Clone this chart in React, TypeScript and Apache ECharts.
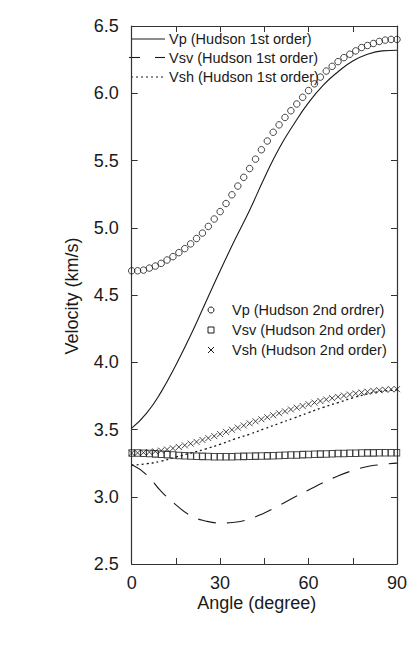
import React, { useEffect, useRef } from "react";
import * as echarts from "echarts";

// Propagation angle samples (degrees)
const ANGLES_FINE = [
  0, 2, 4, 6, 8, 10, 12, 14, 16, 18, 20, 22, 24, 26, 28, 30, 32, 34, 36, 38, 40, 42, 44,
  46, 48, 50, 52, 54, 56, 58, 60, 62, 64, 66, 68, 70, 72, 74, 76, 78, 80, 82, 84, 86, 88, 90,
];
const ANGLES_COARSE = [0, 5, 10, 15, 20, 25, 30, 35, 40, 45, 50, 55, 60, 65, 70, 75, 80, 85, 90];

// Hudson 1st order velocities (km/s), on ANGLES_COARSE
const VP_1ST = [
  3.51, 3.62, 3.78, 3.98, 4.2, 4.44, 4.68, 4.91, 5.13, 5.37, 5.59, 5.77, 5.93, 6.06, 6.16,
  6.24, 6.29, 6.315, 6.32,
];
const VSV_1ST = [
  3.24, 3.165, 3.04, 2.94, 2.86, 2.82, 2.805, 2.81, 2.835, 2.88, 2.935, 2.995, 3.05, 3.105,
  3.155, 3.195, 3.225, 3.24, 3.25,
];
const VSH_1ST = [
  3.235, 3.245, 3.265, 3.295, 3.325, 3.355, 3.39, 3.43, 3.465, 3.505, 3.545, 3.585, 3.625,
  3.665, 3.7, 3.735, 3.765, 3.785, 3.795,
];

// Hudson 2nd order velocities (km/s), on ANGLES_FINE
const VP_2ND = [
  4.68, 4.68, 4.685, 4.7, 4.715, 4.735, 4.76, 4.785, 4.815, 4.845, 4.88, 4.92, 4.96, 5.01,
  5.065, 5.12, 5.18, 5.245, 5.31, 5.375, 5.44, 5.51, 5.58, 5.645, 5.71, 5.765, 5.82, 5.87,
  5.92, 5.97, 6.02, 6.07, 6.12, 6.165, 6.2, 6.235, 6.265, 6.29, 6.315, 6.34, 6.355, 6.37,
  6.385, 6.395, 6.4, 6.4,
];
const VSV_2ND = [
  3.325, 3.325, 3.324, 3.322, 3.319, 3.316, 3.313, 3.31, 3.307, 3.305, 3.303, 3.301, 3.3,
  3.299, 3.298, 3.298, 3.298, 3.298, 3.299, 3.3, 3.301, 3.302, 3.303, 3.304, 3.305, 3.307,
  3.308, 3.31, 3.311, 3.313, 3.314, 3.316, 3.317, 3.318, 3.32, 3.321, 3.322, 3.323, 3.324,
  3.325, 3.326, 3.326, 3.327, 3.327, 3.327, 3.327,
];
const VSH_2ND = [
  3.325, 3.326, 3.328, 3.332, 3.337, 3.343, 3.351, 3.36, 3.37, 3.382, 3.395, 3.408, 3.422,
  3.436, 3.451, 3.466, 3.482, 3.498, 3.514, 3.53, 3.546, 3.561, 3.576, 3.591, 3.606, 3.621,
  3.635, 3.649, 3.662, 3.675, 3.688, 3.7, 3.712, 3.723, 3.733, 3.743, 3.752, 3.76, 3.768,
  3.775, 3.781, 3.787, 3.792, 3.796, 3.799, 3.8,
];

const X_LABELED_TICKS = [0, 30, 60, 90];

const LEGEND_1ST = ["Vp (Hudson 1st order)", "Vsv (Hudson 1st order)", "Vsh (Hudson 1st order)"];
const LEGEND_2ND = ["Vp (Hudson 2nd ordrer)", "Vsv (Hudson 2nd order)", "Vsh (Hudson 2nd order)"];

const INK = "#1a1a1a";
const FONT = "'Liberation Sans', Arial, Helvetica, sans-serif";
const CROSS = "path://M0,0L10,10M10,0L0,10";

const pair = (xs: number[], ys: number[]) => xs.map((x, i) => [x, ys[i]]);

export default function App() {
  const ref = useRef<HTMLDivElement>(null);

  useEffect(() => {
    if (!ref.current) return;
    const chart = echarts.init(ref.current, undefined, { renderer: "svg" });

    const axisCommon = {
      axisLine: { show: true, onZero: false, lineStyle: { color: "#333", width: 1.2 } },
      axisTick: { show: true, inside: true, length: 6, lineStyle: { color: "#333", width: 1 } },
      splitLine: { show: false },
    };

    const legendText = (text: string, x: number, y: number) => ({
      type: "text",
      x,
      y,
      style: { text, fill: INK, font: `14.5px ${FONT}`, textAlign: "left", textVerticalAlign: "middle" },
    });

    const rows1 = [39, 57.5, 77];
    const rows2 = [310, 330, 350];

    chart.setOption({
      animation: false,
      backgroundColor: "#fff",
      grid: { left: 131.7, top: 26, right: 10.5, bottom: 89 },
      xAxis: [
        {
          type: "value",
          min: 0,
          max: 90,
          interval: 15,
          position: "bottom",
          ...axisCommon,
          axisLabel: {
            margin: 10,
            color: INK,
            fontSize: 18,
            fontFamily: FONT,
            formatter: (v: number) => (X_LABELED_TICKS.includes(v) ? String(v) : ""),
          },
        },
        {
          type: "value",
          min: 0,
          max: 90,
          interval: 15,
          position: "top",
          ...axisCommon,
          axisLabel: { show: false },
        },
      ],
      yAxis: [
        {
          type: "value",
          min: 2.5,
          max: 6.5,
          interval: 0.5,
          position: "left",
          ...axisCommon,
          axisLabel: {
            margin: 13,
            color: INK,
            fontSize: 18,
            fontFamily: FONT,
            formatter: (v: number) => v.toFixed(1),
          },
        },
        {
          type: "value",
          min: 2.5,
          max: 6.5,
          interval: 0.5,
          position: "right",
          ...axisCommon,
          axisLabel: { show: false },
        },
      ],
      series: [
        {
          name: LEGEND_1ST[0],
          type: "line",
          smooth: true,
          symbol: "none",
          data: pair(ANGLES_COARSE, VP_1ST),
          lineStyle: { color: INK, width: 1.1 },
        },
        {
          name: LEGEND_1ST[1],
          type: "line",
          smooth: true,
          symbol: "none",
          data: pair(ANGLES_COARSE, VSV_1ST),
          lineStyle: { color: INK, width: 1.1, type: [18, 11] },
        },
        {
          name: LEGEND_1ST[2],
          type: "line",
          smooth: true,
          symbol: "none",
          data: pair(ANGLES_COARSE, VSH_1ST),
          lineStyle: { color: INK, width: 1.3, type: [2, 3] },
        },
        {
          name: LEGEND_2ND[0],
          type: "scatter",
          symbol: "circle",
          symbolSize: 6.5,
          data: pair(ANGLES_FINE, VP_2ND),
          itemStyle: { color: "transparent", borderColor: INK, borderWidth: 1 },
        },
        {
          name: LEGEND_2ND[1],
          type: "scatter",
          symbol: "rect",
          symbolSize: [5.5, 6.5],
          data: pair(ANGLES_FINE, VSV_2ND),
          itemStyle: { color: "transparent", borderColor: INK, borderWidth: 1 },
        },
        {
          name: LEGEND_2ND[2],
          type: "scatter",
          symbol: CROSS,
          symbolSize: 6,
          data: pair(ANGLES_FINE, VSH_2ND),
          itemStyle: { color: "transparent", borderColor: INK, borderWidth: 1 },
        },
      ],
      graphic: [
        // Axis titles
        {
          type: "text",
          x: 256.7,
          y: 603,
          style: {
            text: "Angle (degree)",
            fill: INK,
            font: `18px ${FONT}`,
            textAlign: "center",
            textVerticalAlign: "middle",
          },
        },
        {
          type: "text",
          x: 72,
          y: 296,
          rotation: Math.PI / 2,
          style: {
            text: "Velocity (km/s)",
            fill: INK,
            font: `18px ${FONT}`,
            textAlign: "center",
            textVerticalAlign: "middle",
          },
        },
        // Key for the 1st order curves
        { type: "line", shape: { x1: 131, y1: rows1[0], x2: 165, y2: rows1[0] }, style: { stroke: INK, lineWidth: 1 } },
        { type: "line", shape: { x1: 129, y1: rows1[1], x2: 140, y2: rows1[1] }, style: { stroke: INK, lineWidth: 1.1 } },
        { type: "line", shape: { x1: 155, y1: rows1[1], x2: 165, y2: rows1[1] }, style: { stroke: INK, lineWidth: 1.1 } },
        {
          type: "line",
          shape: { x1: 131, y1: rows1[2], x2: 165, y2: rows1[2] },
          style: { stroke: INK, lineWidth: 1.2, lineDash: [2, 3] },
        },
        legendText(LEGEND_1ST[0], 169, rows1[0]),
        legendText(LEGEND_1ST[1], 169, rows1[1]),
        legendText(LEGEND_1ST[2], 169, rows1[2]),
        // Key for the 2nd order markers
        { type: "circle", shape: { cx: 211, cy: rows2[0], r: 3 }, style: { fill: "none", stroke: INK, lineWidth: 1 } },
        { type: "rect", shape: { x: 208, y: rows2[1] - 3, width: 6, height: 6 }, style: { fill: "none", stroke: INK, lineWidth: 1 } },
        { type: "line", shape: { x1: 208, y1: rows2[2] - 3, x2: 214, y2: rows2[2] + 3 }, style: { stroke: INK, lineWidth: 1 } },
        { type: "line", shape: { x1: 214, y1: rows2[2] - 3, x2: 208, y2: rows2[2] + 3 }, style: { stroke: INK, lineWidth: 1 } },
        legendText(LEGEND_2ND[0], 232, rows2[0]),
        legendText(LEGEND_2ND[1], 232, rows2[1]),
        legendText(LEGEND_2ND[2], 232, rows2[2]),
      ],
    });

    return () => chart.dispose();
  }, []);

  return (
    <div
      ref={ref}
      style={{ position: "absolute", left: 0, top: 0, width: 410, height: 653, background: "#fff" }}
    />
  );
}
